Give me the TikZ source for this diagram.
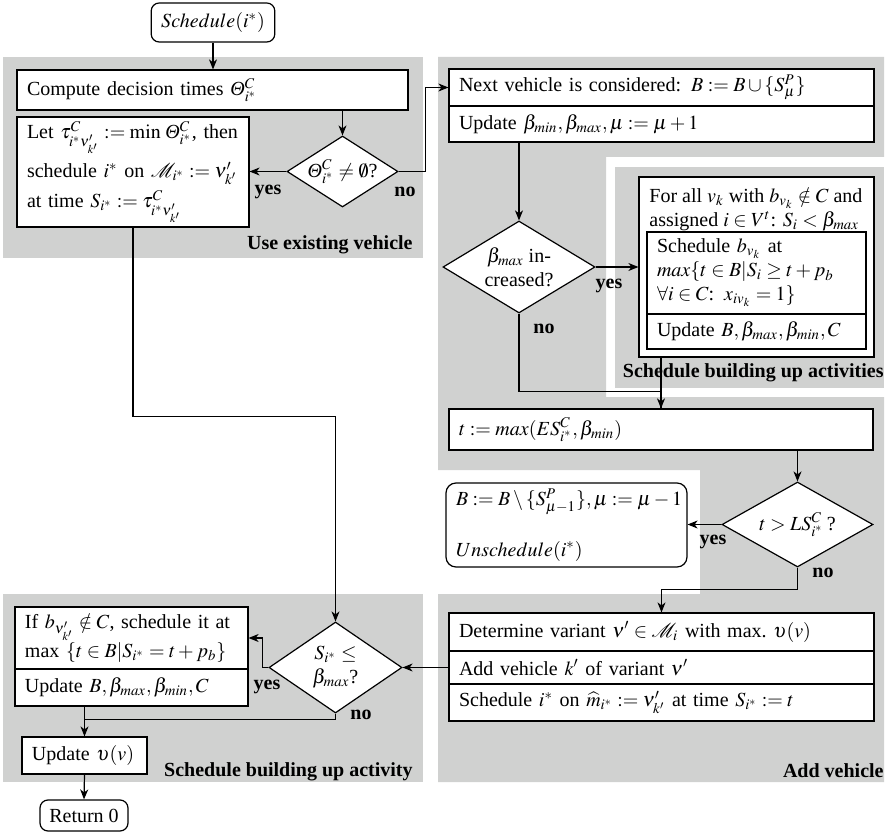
\documentclass[tikz,border=0pt]{standalone}
\usepackage{mathptmx}
\usepackage[no-math]{fontspec}
\setmainfont{Liberation Serif}
\usetikzlibrary{shapes.geometric,arrows.meta}
\definecolor{bg}{RGB}{208,209,208}
\newcommand\vTh{\mbox{\normalfont\itshape Θ}}
\tikzset{
 box/.style={draw, fill=white, line width=0.6pt, inner xsep=5pt, inner ysep=0pt, align=left},
 rbox/.style={box, rounded corners=4pt},
 dia/.style={draw, fill=white, line width=0.6pt, diamond, inner sep=0pt, align=center},
 arr/.style={line width=0.6pt, -{Stealth[length=5pt,width=4pt,inset=1.5pt]}},
 con/.style={line width=0.6pt},
 yn/.style={font=\bfseries, inner sep=0pt},
 lbl/.style={font=\bfseries, inner sep=0pt, anchor=base east},
}
\newcommand\pbox[7][]{%
  \pgfmathsetmacro\bxw{(#5-#3)*0.5}%
  \pgfmathsetmacro\bxh{(#6-#4)*0.5}%
  \pgfmathsetmacro\bxtw{(#5-#3)*0.5-10}%
  \node[box,#1,minimum width=\bxw pt,minimum height=\bxh pt,text width=\bxtw pt] (#2) at ({(#3+#5)/2},{(#4+#6)/2}) {#7};}
\begin{document}
\begin{tikzpicture}[x=0.5pt,y=-0.5pt]
\useasboundingbox (0,0) rectangle (889,834);
% grey regions
\fill[bg] (3,57) rectangle (423,258);
\fill[bg] (438,57) -- (884,57) -- (884,157) -- (606,157) -- (606,397) -- (884,397) -- (884,782) -- (438,782) -- (438,594) -- (700,594) -- (700,470) -- (438,470) -- cycle;
\fill[bg] (615,167) rectangle (884,388);
\fill[bg] (3,594) rectangle (423,782);
% region labels
\node[lbl] (lab1) at (413,250) {Use existing vehicle};
\node[lbl] (lab2) at (884,378) {Schedule building up activities};
\node[lbl] (lab3) at (413,776) {Schedule building up activity};
\node[lbl] (lab4) at (884,777) {Add vehicle};
% nodes
\node[rbox, minimum width=61pt, minimum height=19.5pt] (start) at (213,22.5) {$Schedule(i^*)$};
\pbox{compute}{17}{70}{408}{110}{Compute decision times $\vTh^C_{i^*}$}
\pbox{let}{17}{117}{249}{227}{\mbox{Let $\tau^C_{i^* \nu'_{k'}} := \min\, \vTh^C_{i^*}$, then}\\[3pt]
 \mbox{schedule $i^*$ on $\mathcal{M}_{i^*} := \nu'_{k'}$}\\[2pt]
 \mbox{at time $S_{i^*} := \tau^C_{i^*\nu'_{k'}}$}}
\node[dia, minimum width=55.5pt, minimum height=35.5pt, aspect=1.56] (theta) at (342.5,171.5) {$\vTh^C_{i^*} \neq \emptyset$?};
\pbox{next1}{449}{69}{874}{106}{Next vehicle is considered: $B := B \cup \{S^P_\mu\}$}
\pbox{next2}{449}{106}{874}{142}{Update $\beta_{min}, \beta_{max}, \mu := \mu + 1$}
\node[dia, minimum width=76pt, minimum height=46pt, aspect=1.65] (beta) at (519,267) {$\beta_{max}$ in-\\creased?};
\pbox{forall}{639}{177}{874}{357}{}
\node[anchor=north west, inner sep=0pt, align=left] (forallt) at (649,187) {For all $v_k$ with $b_{v_k} \notin C$ and\\ assigned $i \in V^t$: $S_i < \beta_{max}$};
\pbox{inner1}{647}{232}{866}{314}{Schedule $b_{v_k}$ at\\ \mbox{$max\{t \in B | S_i \geq t + p_b$}\\ \mbox{$\forall i \in C$: $x_{iv_k} = 1\}$}}
\pbox{inner2}{647}{314}{866}{349}{Update $B, \beta_{max}, \beta_{min}, C$}
\pbox{tbox}{449}{409}{873}{450}{$t := max(ES^C_{i^*}, \beta_{min})$}
\node[dia, minimum width=75.5pt, minimum height=42.5pt, aspect=1.78] (tdia) at (797.5,524.5) {$t > LS^C_{i^*}$\,?};
\pbox[rounded corners=5pt]{unsch}{446}{483}{687}{567}{\mbox{$B := B \setminus \{S^P_{\mu-1}\}, \mu := \mu - 1$}\\[12pt] $Unschedule(i^*)$}
\pbox{det1}{449}{613}{874}{651}{Determine variant $\nu' \in \mathcal{M}_i$ with max.\ $\upsilon(v)$}
\pbox{det2}{449}{651}{874}{684}{Add vehicle $k'$ of variant $\nu'$}
\pbox{det3}{449}{684}{874}{721}{\mbox{Schedule $i^*$ on $\widehat{m}_{i^*} := \nu'_{k'}$ at time $S_{i^*} := t$}}
\node[dia, minimum width=66.5pt, minimum height=45.5pt, aspect=1.46] (sdia) at (335.5,667.5) {$S_{i^*} \leq$\\$\beta_{max}$?};
\pbox{if1}{15}{607}{248}{669}{\mbox{If $b_{\nu'_{k'}} \notin C$, schedule it at}\\ \mbox{max $\{t \in B | S_{i^*} = t + p_b\}$}}
\pbox{if2}{15}{669}{248}{706}{Update $B, \beta_{max}, \beta_{min}, C$}
\pbox{upd}{22}{737}{147}{774}{Update $\upsilon(v)$}
\node[rbox, minimum width=44pt, minimum height=15.5pt, inner xsep=3pt] (ret) at (84,815.5) {Return 0};
% yes / no
\node[yn] (y1) at (268,192) {yes}; \node[yn] (n1) at (405,192) {no};
\node[yn] (y2) at (609,286) {yes}; \node[yn] (n2) at (544,329) {no};
\node[yn] (y3) at (713,542) {yes}; \node[yn] (n3) at (823,573) {no};
\node[yn] (y4) at (267,687) {yes}; \node[yn] (n4) at (361,715) {no};
% connectors
\draw[arr] (start.south) -- (start.south |- compute.north);
\draw[arr] (theta.north |- compute.south) -- (theta.north);
\draw[arr] (theta.west) -- (theta.west -| let.east);
\draw[arr] (theta.east) -- ++(27,0) |- (next1.west);
\draw[arr] (let.south) -- ++(0,189) -| (sdia.north);
\draw[arr] (beta.north |- next2.south) -- (beta.north);
\draw[arr] (beta.east) -- (beta.east -| forall.west);
\draw[arr] (beta.south) -- ++(0,78) -| (tbox.north);
\draw[con] (forall.south -| tbox.north) -- (tbox.north);
\draw[arr] (tdia.north |- tbox.south) -- (tdia.north);
\draw[arr] (tdia.west) -- (tdia.west -| unsch.east);
\draw[arr] (tdia.south) -- ++(0,22) -| (det1.north);
\draw[arr] (det2.west) -- (sdia.east);
\draw[arr] (sdia.west) -- ++(-6,0) |- (if1.east);
\draw[arr] (sdia.south) -- ++(0,6) -| (upd.north);
\draw[con] (if2.south -| upd.north) -- ++(0,13);
\draw[arr] (upd.south) -- (ret.north);
\end{tikzpicture}
\end{document}
